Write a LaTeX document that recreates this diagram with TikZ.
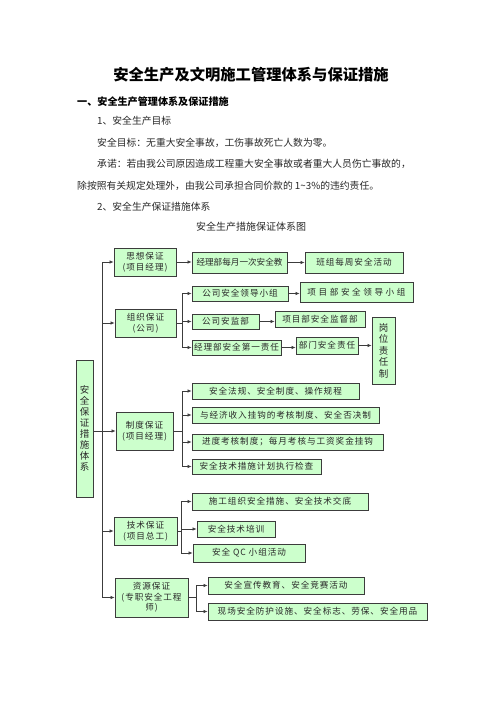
\documentclass[tikz,border=0pt]{standalone}
\usepackage{fontspec}
\setmainfont{Noto Sans CJK SC}
\newfontfamily\dfont[LetterSpace=11]{Noto Sans CJK SC}
\newfontfamily\dwide[LetterSpace=30]{Noto Sans CJK SC}
\newfontfamily\dtight[LetterSpace=0]{Noto Sans CJK SC}
\usetikzlibrary{arrows.meta}
\definecolor{boxgreen}{RGB}{204,255,204}
\definecolor{edgegray}{RGB}{60,60,60}
\definecolor{txtgray}{RGB}{40,40,40}
\begin{document}
\begin{tikzpicture}[x=1pt,y=-1pt,
 bx/.style={draw=edgegray, line width=0.8pt, fill=boxgreen, inner sep=0pt, font=\dfont\fontsize{8.6}{10.5}\selectfont, text=txtgray, align=center},
 ln/.style={draw=edgegray, line width=0.7pt},
 arr/.style={ln, -{Latex[length=4pt,width=3.5pt]}},
 body/.style={anchor=west, inner sep=0pt, font=\fontsize{9.8}{12}\selectfont, text=txtgray}]

\path[use as bounding box, fill=white] (0,0) rectangle (502,711);

% texts
\node[inner sep=0pt, font=\bfseries\fontsize{15.3}{18}\selectfont] (title) at (251,75) {安全生产及文明施工管理体系与保证措施};
\node[anchor=west, inner sep=0pt, font=\bfseries\fontsize{10.1}{12}\selectfont] (head) at (77,102) {一、安全生产管理体系及保证措施};
\node[body] (l1) at (97,121) {1、安全生产目标};
\node[body] (l2) at (97,143) {安全目标：无重大安全事故，工伤事故死亡人数为零。};
\node[body] (l3) at (97,164) {承诺：若由我公司原因造成工程重大安全事故或者重大人员伤亡事故的，};
\node[body] (l4) at (77,186) {除按照有关规定处理外，由我公司承担合同价款的 1\textasciitilde3\%的违约责任。};
\node[body] (l5) at (97,207) {2、安全生产保证措施体系};
\node[inner sep=0pt, font=\fontsize{10}{12}\selectfont, text=txtgray] (cap) at (251,227) {安全生产措施保证体系图};

% boxes
\node[bx, minimum width=62pt, minimum height=28pt] (sx) at (145,262) {思想保证\\(项目经理)};
\node[bx, minimum width=95pt, minimum height=21pt, font=\dtight\fontsize{8.6}{10.5}\selectfont] (jl) at (239.5,262.5) {经理部每月一次安全教};
\node[bx, minimum width=98pt, minimum height=21pt] (bz) at (354,262.5) {班组每周安全活动};
\node[bx, minimum width=61pt, minimum height=28pt] (zz) at (145.5,323) {组织保证\\(公司)};
\node[bx, minimum width=96pt, minimum height=15pt] (gsaq) at (240,293.5) {公司安全领导小组};
\node[bx, minimum width=113pt, minimum height=20pt, font=\dwide\fontsize{8.6}{10.5}\selectfont] (xmaq) at (356.5,292) {项目部安全领导小组};
\node[bx, minimum width=67pt, minimum height=15pt] (gsaj) at (225.5,321.5) {公司安监部};
\node[bx, minimum width=90pt, minimum height=16pt] (xmjd) at (320,319) {项目部安全监督部};
\node[bx, minimum width=89pt, minimum height=15pt] (jldy) at (236.5,347.5) {经理部安全第一责任};
\node[bx, minimum width=62pt, minimum height=17pt] (bm) at (327,345.5) {部门安全责任};
\node[bx, minimum width=23pt, minimum height=67pt, font=\dtight\fontsize{9.5}{11.5}\selectfont] (gw) at (383.5,350.5) {岗\\位\\责\\任\\制};
\node[bx, minimum width=17pt, minimum height=137pt, font=\dtight\fontsize{9.5}{11}\selectfont] (root) at (84.5,428.5) {安\\全\\保\\证\\措\\施\\体\\系};
\node[bx, minimum width=57pt, minimum height=38pt] (zd) at (144.5,431) {制度保证\\(项目经理)};
\node[bx, minimum width=167pt, minimum height=16pt] (fg) at (275.5,391) {安全法规、安全制度、操作规程};
\node[bx, minimum width=187pt, minimum height=16pt] (jj) at (285.5,415) {与经济收入挂钩的考核制度、安全否决制};
\node[bx, minimum width=191pt, minimum height=16pt] (jd) at (287.5,442) {进度考核制度；每月考核与工资奖金挂钩};
\node[bx, minimum width=129pt, minimum height=15pt] (js) at (256.5,466.5) {安全技术措施计划执行检查};
\node[bx, minimum width=63pt, minimum height=28pt] (jsbz) at (145.5,531) {技术保证\\(项目总工)};
\node[bx, minimum width=176pt, minimum height=17pt] (sg) at (280,501.5) {施工组织安全措施、安全技术交底};
\node[bx, minimum width=78pt, minimum height=16pt] (px) at (236,529) {安全技术培训};
\node[bx, minimum width=112pt, minimum height=18pt] (qc) at (249,553) {安全 QC 小组活动};
\node[bx, minimum width=73pt, minimum height=39pt] (zy) at (151.5,597.5) {资源保证\\(专职安全工程\\师)};
\node[bx, minimum width=156pt, minimum height=17pt] (xc) at (286,585.5) {安全宣传教育、安全竞赛活动};
\node[bx, minimum width=219pt, minimum height=17pt] (xf) at (317.5,611.5) {现场安全防护设施、安全标志、劳保、安全用品};

% trunk
\coordinate (tr) at (102,0);
\draw[ln] (sx.west -| tr) -- (zy.west -| tr);
\foreach \n in {sx,zz,jsbz,zy} \draw[arr] (\n.west -| tr) -- (\n.west);
\draw[arr] (root.east |- zd.west) -- (zd.west);

% branches
\coordinate (b1) at (182,0);
\draw[ln] (zz.east) -- (zz.east -| b1);
\draw[ln] (gsaq.west -| b1) -- (jldy.west -| b1);
\foreach \n in {gsaq,gsaj,jldy} \draw[arr] (\n.west -| b1) -- (\n.west);

\draw[ln] (zd.east) -- (zd.east -| b1);
\draw[ln] (fg.west -| b1) -- (js.west -| b1);
\foreach \n in {fg,jj,jd,js} \draw[arr] (\n.west -| b1) -- (\n.west);

\coordinate (b2) at (181,0);
\draw[ln] (jsbz.east) -- (jsbz.east -| b2);
\draw[ln] (sg.west -| b2) -- (qc.west -| b2);
\foreach \n in {sg,px,qc} \draw[arr] (\n.west -| b2) -- (\n.west);

\coordinate (b3) at (196,0);
\draw[ln] (zy.east) -- (zy.east -| b3);
\draw[ln] (xc.west -| b3) -- (xf.west -| b3);
\foreach \n in {xc,xf} \draw[arr] (\n.west -| b3) -- (\n.west);

% chains
\draw[arr] (sx.east) -- (sx.east -| jl.west);
\draw[arr] (jl.east) -- (jl.east -| bz.west);
\draw[arr] (gsaq.east) -- (gsaq.east -| xmaq.west);
\draw[arr] (gsaj.east) -- (gsaj.east -| xmjd.west);
\draw[arr] (jldy.east) -- (jldy.east -| bm.west);
\draw[arr] (bm.east) -- (bm.east -| gw.west);
\end{tikzpicture}
\end{document}
